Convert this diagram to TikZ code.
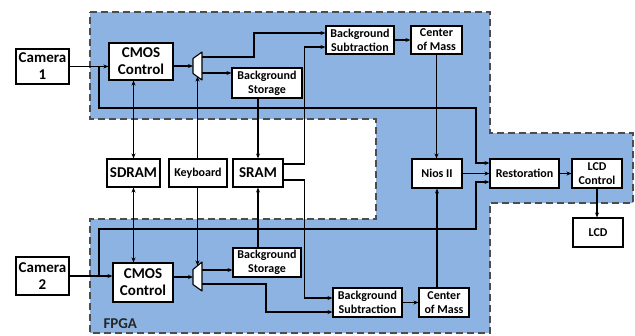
\documentclass[tikz,border=0pt]{standalone}
\usepackage{fontspec}
\setmainfont{Carlito}
\usetikzlibrary{arrows.meta}
\definecolor{fpgablue}{HTML}{8DB3E2}

\begin{document}
\begin{tikzpicture}[x=1pt,y=-1pt,
  blk/.style={draw=black, fill=white, line width=1.1pt, inner sep=0pt, align=center},
  bigbox/.style={blk, font=\fontsize{15}{17}\selectfont\bfseries},
  smallbox/.style={blk, font=\fontsize{12}{14}\selectfont\bfseries},
  wire/.style={line width=1.1pt, -{Stealth[length=5pt, width=4pt]}},
  bothwire/.style={line width=1.1pt, {Stealth[length=5pt, width=4pt]}-{Stealth[length=5pt, width=4pt]}},
  thinwire/.style={line width=0.6pt, -{Stealth[length=5pt, width=4pt]}},
  muxbox/.style={draw=black, fill=white, line width=1.1pt, line join=round}]
\useasboundingbox (0,0) rectangle (635,335);
\draw[fill=fpgablue, draw=black!70, line width=1.5pt, dash pattern=on 7pt off 4pt]
  (90,12) -- (490,12) -- (490,133) -- (633,133) -- (633,203) -- (490,203) -- (490,333)
  -- (90,333) -- (90,219) -- (376,219) -- (376,119) -- (90,119) -- cycle;
\node[anchor=base west, font=\fontsize{15}{17}\selectfont\bfseries, text=black!85] (fpga) at (100,328) {FPGA};

\node[bigbox, minimum width=53, minimum height=35] (cam1) at (42.5,66.5) {Camera\\1};
\node[bigbox, minimum width=53, minimum height=38] (cam2) at (42.5,276) {Camera\\2};
\node[bigbox, minimum width=64, minimum height=37] (cmos1) at (141,61.5) {CMOS\\Control};
\node[bigbox, minimum width=60, minimum height=39] (cmos2) at (143,282.5) {CMOS\\Control};
\node[bigbox, minimum width=53, minimum height=28] (sdram) at (133.5,173) {SDRAM};
\node[smallbox, minimum width=58, minimum height=28] (kbd) at (198,173) {Keyboard};
\node[bigbox, minimum width=50, minimum height=28] (sram) at (258,173) {SRAM};
\node[smallbox, minimum width=70, minimum height=30] (bgst1) at (267,83) {Background\\Storage};
\node[smallbox, minimum width=68, minimum height=29] (bgst2) at (267,262.5) {Background\\Storage};
\node[smallbox, minimum width=68, minimum height=28] (bgsub1) at (360,40) {Background\\Subtraction};
\node[smallbox, minimum width=69, minimum height=29] (bgsub2) at (367.5,302.5) {Background\\Subtraction};
\node[smallbox, minimum width=51, minimum height=28] (com1) at (436.5,40) {Center\\of Mass};
\node[smallbox, minimum width=50, minimum height=29] (com2) at (444,302.5) {Center\\of Mass};
\node[smallbox, minimum width=50, minimum height=29] (nios) at (437,173.5) {Nios II};
\node[smallbox, minimum width=69, minimum height=29] (restore) at (524.5,173.5) {Restoration};
\node[smallbox, minimum width=50, minimum height=29] (lcdctl) at (597,173.5) {LCD\\Control};
\node[smallbox, minimum width=50, minimum height=29] (lcd) at (598,232.5) {LCD};

\coordinate (mux1in) at (193,66);
\coordinate (mux1up) at (202,57);
\coordinate (mux1dn) at (202,73);
\coordinate (mux1sel) at (197.5,76.5);
\coordinate (mux2in) at (193,277);
\coordinate (mux2up) at (202,270);
\coordinate (mux2dn) at (202,284);
\coordinate (mux2sel) at (197.5,265.5);
\coordinate (bus1) at (99,108);
\coordinate (bus1r) at (476,108);
\coordinate (bus2) at (99,229);
\coordinate (bus2r) at (476,229);

\draw[wire] (cam1.east) -- (cam1.east -| cmos1.west);
\draw[wire] (cam2.east) -- (cam2.east -| cmos2.west);
\draw[wire] (cam1.east -| bus1) -- (bus1) -- (bus1r) |- ([yshift=10.5pt]restore.west);
\draw[wire] (cam2.east -| bus2) -- (bus2) -- (bus2r) |- ([yshift=-8.5pt]restore.west);
\draw[wire] (mux1in -| cmos1.east) -- (mux1in);
\draw[wire] (mux2in -| cmos2.east) -- (mux2in);
\draw[wire] (mux1up) -- ++(52,0) |- ([yshift=7pt]bgsub1.west);
\draw[wire] (mux1dn) -- (mux1dn -| bgst1.west);
\draw[wire] (mux2up) -- (mux2up -| bgst2.west);
\draw[wire] (mux2dn) -- ++(64,0) |- ([yshift=-9.5pt]bgsub2.west);
\draw[wire] ([yshift=9pt]sram.east) -- ++(21,0) |- ([yshift=-7pt]bgsub1.west);
\draw[wire] ([yshift=-7pt]sram.east) -- ++(21,0) |- ([yshift=4.5pt]bgsub2.west);
\draw[wire] (bgsub1) -- (com1);
\draw[wire] (bgsub2) -- (com2);
\draw[wire] (com1.south) -- (com1.south |- nios.north);
\draw[wire] (nios.south |- com2.north) -- (nios.south);
\draw[wire] (nios) -- (restore);
\draw[wire] (restore) -- (lcdctl);
\draw[wire] (lcdctl.south) -- (lcdctl.south |- lcd.north);
\draw[bothwire] (sdram.north) -- (sdram.north |- cmos1.south);
\draw[bothwire] (sdram.south) -- (sdram.south |- cmos2.north);
\draw[wire] (sram.north |- bgst1.south) -- (sram.north);
\draw[wire] (sram.south |- bgst2.north) -- (sram.south);
\draw[thinwire] (mux1sel |- kbd.north) -- (mux1sel);
\draw[thinwire] (mux2sel |- kbd.south) -- (mux2sel);

\draw[muxbox] (193,58.5) -- (202,52) -- (202,80) -- (193,73.5) -- cycle;
\draw[muxbox] (193,269.5) -- (202,262) -- (202,291) -- (193,284.5) -- cycle;
\end{tikzpicture}
\end{document}
